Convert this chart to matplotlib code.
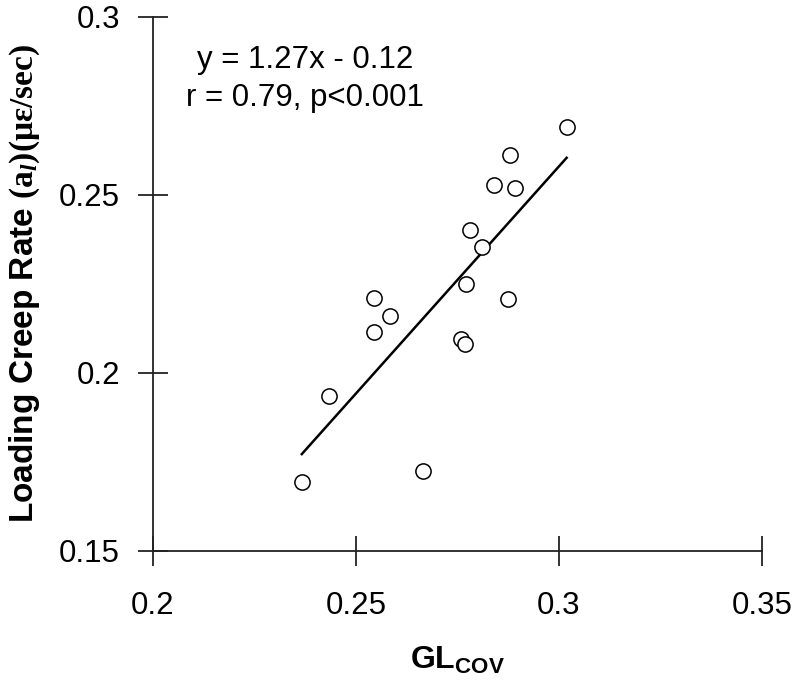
import matplotlib
matplotlib.use("Agg")
import matplotlib.pyplot as plt
import numpy as np

# values
gl_cov = [0.3019, 0.2880, 0.2839, 0.2892, 0.2781, 0.2810, 0.2771, 0.2875,
          0.2545, 0.2584, 0.2545, 0.2758, 0.2769, 0.2434, 0.2665, 0.2367]
creep_rate = [0.2692, 0.2612, 0.2528, 0.2520, 0.2401, 0.2353, 0.2249, 0.2207,
              0.2209, 0.2160, 0.2116, 0.2096, 0.2080, 0.1936, 0.1725, 0.1692]
x_ticks = [0.2, 0.25, 0.3, 0.35]
y_ticks = [0.15, 0.2, 0.25, 0.3]
x_tick_labels = ["0.2", "0.25", "0.3", "0.35"]
y_tick_labels = ["0.15", "0.2", "0.25", "0.3"]
fit_lines = ["y = 1.27x - 0.12", "r = 0.79, p<0.001"]

plt.rcParams['font.family'] = ['Liberation Sans', 'DejaVu Sans']
plt.rcParams['mathtext.fontset'] = 'custom'
plt.rcParams['mathtext.rm'] = 'Liberation Serif'
plt.rcParams['mathtext.bf'] = 'Liberation Serif:bold'
plt.rcParams['mathtext.it'] = 'Liberation Serif:italic:bold'
plt.rcParams['mathtext.sf'] = 'Liberation Sans:bold'

fig = plt.figure(figsize=(8, 6.93), dpi=100)
ax = fig.add_axes([0.1909, 0.2053, 0.7616, 0.7702])

ax.scatter(gl_cov, creep_rate, s=120, facecolors='white', edgecolors='black',
           linewidths=1.1, zorder=3)

# regression line over the data range
slope, intercept = np.polyfit(gl_cov, creep_rate, 1)
xs = np.array([min(gl_cov), max(gl_cov)])
ax.plot(xs, slope * xs + intercept, color='black', lw=1.8, zorder=2)

ax.set_xlim(0.2, 0.35)
ax.set_ylim(0.15, 0.3)
ax.set_xticks(x_ticks)
ax.set_xticklabels(x_tick_labels)
ax.set_yticks(y_ticks)
ax.set_yticklabels(y_tick_labels)

for s in ['top', 'right']:
    ax.spines[s].set_visible(False)
for s in ['left', 'bottom']:
    ax.spines[s].set_linewidth(1.3)
    ax.spines[s].set_color('#222222')
ax.tick_params(axis='both', direction='inout', length=22, width=1.3,
               color='#222222', labelsize=22.5)
ax.tick_params(axis='x', pad=18)
ax.tick_params(axis='y', pad=12.5)

ax.text(0.25, 0.9045, fit_lines[0], transform=ax.transAxes,
        ha='center', va='baseline', fontsize=22.5)
ax.text(0.25, 0.834, fit_lines[1], transform=ax.transAxes,
        ha='center', va='baseline', fontsize=22.5)

ax.set_xlabel(r"$\mathsf{GL_{COV}}$", fontsize=23, labelpad=17)
ax.set_ylabel(r"Loading Creep Rate $\mathbf{(a}_{\mathit{l}}\mathbf{)(\mu\varepsilon/sec)}$",
              fontsize=24, fontweight='bold', labelpad=12)

fig.savefig("out.png", dpi=100)
